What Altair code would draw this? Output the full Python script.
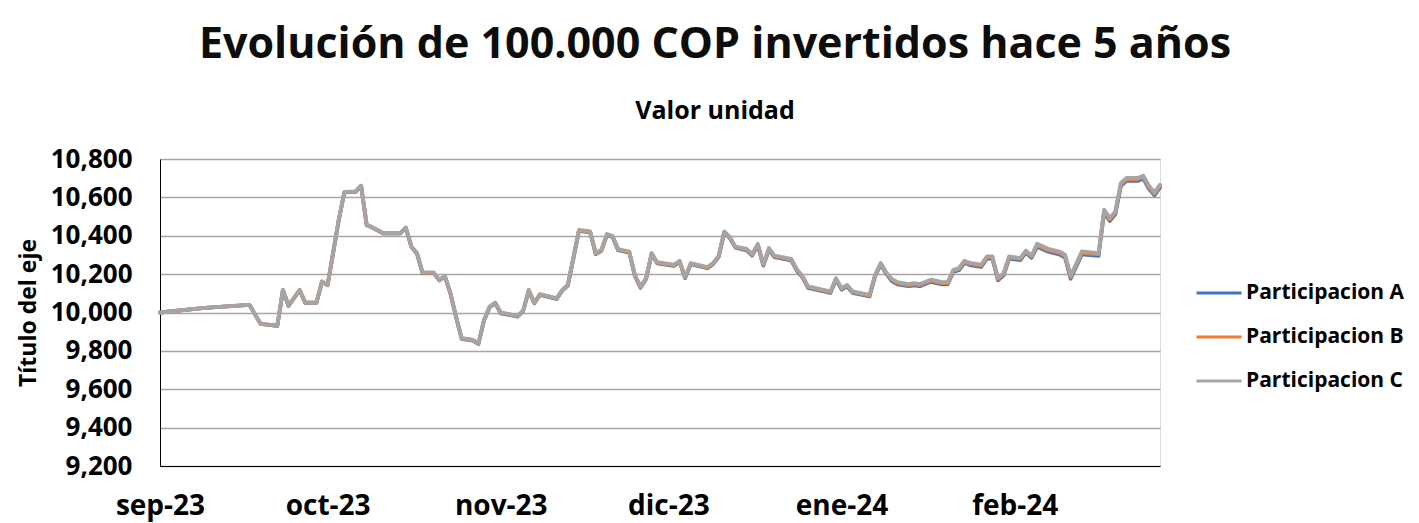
import altair as alt
import pandas as pd

dates = [
    "2023-09-01", "2023-09-09", "2023-09-17", "2023-09-19", "2023-09-22", "2023-09-23", "2023-09-24",
    "2023-09-26", "2023-09-27", "2023-09-29", "2023-09-30", "2023-10-01", "2023-10-03", "2023-10-04",
    "2023-10-06", "2023-10-07", "2023-10-08", "2023-10-09", "2023-10-11", "2023-10-14", "2023-10-15",
    "2023-10-16", "2023-10-17", "2023-10-18", "2023-10-20", "2023-10-21", "2023-10-22", "2023-10-23",
    "2023-10-24", "2023-10-25", "2023-10-27", "2023-10-28", "2023-10-29", "2023-10-30", "2023-10-31",
    "2023-11-01", "2023-11-04", "2023-11-05", "2023-11-06", "2023-11-07", "2023-11-08", "2023-11-11",
    "2023-11-12", "2023-11-13", "2023-11-15", "2023-11-17", "2023-11-18", "2023-11-19", "2023-11-20",
    "2023-11-21", "2023-11-22", "2023-11-24", "2023-11-25", "2023-11-26", "2023-11-27", "2023-11-28",
    "2023-11-29", "2023-12-02", "2023-12-03", "2023-12-04", "2023-12-05", "2023-12-08", "2023-12-09",
    "2023-12-10", "2023-12-11", "2023-12-12", "2023-12-13", "2023-12-15", "2023-12-16", "2023-12-17",
    "2023-12-18", "2023-12-19", "2023-12-20", "2023-12-23", "2023-12-24", "2023-12-25", "2023-12-26",
    "2023-12-30", "2023-12-31", "2024-01-01", "2024-01-02", "2024-01-03", "2024-01-06", "2024-01-07",
    "2024-01-08", "2024-01-09", "2024-01-10", "2024-01-11", "2024-01-13", "2024-01-14", "2024-01-15",
    "2024-01-17", "2024-01-19", "2024-01-20", "2024-01-21", "2024-01-22", "2024-01-23", "2024-01-24",
    "2024-01-26", "2024-01-27", "2024-01-28", "2024-01-29", "2024-01-30", "2024-01-31", "2024-02-02",
    "2024-02-03", "2024-02-04", "2024-02-05", "2024-02-07", "2024-02-09", "2024-02-10", "2024-02-11",
    "2024-02-13", "2024-02-16", "2024-02-17", "2024-02-18", "2024-02-19", "2024-02-20", "2024-02-21",
    "2024-02-23", "2024-02-24", "2024-02-25", "2024-02-26", "2024-02-27",
]

part_c = [
    10000, 10024, 10040, 9941, 9932, 10118, 10037,
    10118, 10052, 10052, 10162, 10144, 10484, 10628,
    10631, 10661, 10457, 10445, 10414, 10414, 10443,
    10344, 10310, 10209, 10209, 10171, 10191, 10101,
    9979, 9866, 9858, 9840, 9962, 10031, 10052,
    10000, 9983, 10010, 10118, 10052, 10096, 10075,
    10118, 10144, 10431, 10423, 10310, 10327, 10409,
    10400, 10331, 10318, 10197, 10135, 10179, 10310,
    10262, 10249, 10270, 10185, 10258, 10237, 10258,
    10296, 10423, 10393, 10344, 10332, 10305, 10358,
    10252, 10336, 10296, 10279, 10226, 10191, 10136,
    10110, 10179, 10127, 10144, 10110, 10092, 10197,
    10258, 10209, 10175, 10158, 10148, 10153, 10148,
    10171, 10158, 10158, 10223, 10231, 10270, 10258,
    10249, 10292, 10292, 10179, 10205, 10292, 10284,
    10323, 10296, 10358, 10332, 10318, 10301, 10191,
    10318, 10310, 10536, 10492, 10527, 10675, 10701,
    10701, 10713, 10661, 10626, 10666,
]

part_b = [
    10000, 10024, 10040, 9941, 9931, 10117, 10036,
    10117, 10051, 10051, 10161, 10143, 10483, 10627,
    10630, 10660, 10456, 10444, 10413, 10413, 10442,
    10343, 10308, 10207, 10207, 10169, 10189, 10099,
    9977, 9864, 9856, 9838, 9960, 10029, 10050,
    9998, 9981, 10008, 10116, 10050, 10094, 10073,
    10116, 10142, 10428, 10420, 10307, 10324, 10406,
    10397, 10328, 10315, 10194, 10132, 10176, 10307,
    10259, 10246, 10267, 10182, 10255, 10234, 10255,
    10293, 10420, 10390, 10341, 10328, 10301, 10354,
    10248, 10332, 10292, 10275, 10222, 10187, 10132,
    10106, 10175, 10123, 10140, 10106, 10088, 10193,
    10254, 10205, 10170, 10153, 10143, 10148, 10143,
    10166, 10153, 10153, 10218, 10226, 10265, 10253,
    10244, 10287, 10287, 10174, 10200, 10287, 10279,
    10318, 10291, 10351, 10325, 10311, 10294, 10184,
    10311, 10303, 10529, 10485, 10520, 10668, 10694,
    10694, 10706, 10654, 10619, 10659,
]

part_a = [
    10000, 10024, 10040, 9941, 9930, 10116, 10035,
    10116, 10050, 10050, 10160, 10142, 10482, 10626,
    10629, 10659, 10455, 10443, 10412, 10412, 10441,
    10342, 10306, 10205, 10205, 10167, 10187, 10097,
    9975, 9862, 9854, 9836, 9958, 10027, 10048,
    9996, 9979, 10006, 10114, 10048, 10092, 10071,
    10114, 10140, 10425, 10417, 10304, 10321, 10403,
    10394, 10325, 10312, 10191, 10129, 10173, 10304,
    10256, 10243, 10264, 10179, 10252, 10231, 10252,
    10290, 10417, 10387, 10338, 10324, 10297, 10350,
    10244, 10328, 10288, 10271, 10218, 10183, 10128,
    10102, 10171, 10119, 10136, 10102, 10084, 10189,
    10250, 10201, 10164, 10147, 10137, 10142, 10137,
    10160, 10147, 10147, 10212, 10220, 10259, 10247,
    10238, 10281, 10281, 10168, 10194, 10281, 10273,
    10312, 10285, 10343, 10317, 10303, 10286, 10176,
    10303, 10295, 10521, 10477, 10512, 10660, 10686,
    10686, 10698, 10646, 10611, 10651,
]

series_names = ["Participacion A", "Participacion B", "Participacion C"]
series_colors = ["#4472C4", "#ED7D31", "#A5A5A5"]
y_ticks = [9200, 9400, 9600, 9800, 10000, 10200, 10400, 10600, 10800]
month_ticks = [(2023, 9), (2023, 10), (2023, 11), (2023, 12), (2024, 1), (2024, 2)]
month_names = ["ene", "feb", "mar", "abr", "may", "jun", "jul", "ago", "sep", "oct", "nov", "dic"]

rows = []
for name, vals in zip(series_names, [part_a, part_b, part_c]):
    for d, v in zip(dates, vals):
        rows.append({"fecha": d, "valor": v, "serie": name})
df = pd.DataFrame(rows)

FONT = "Open Sans"
names_js = "[" + ",".join("'%s'" % m for m in month_names) + "]"
label_expr = names_js + "[utcmonth(datum.value)] + '-' + utcFormat(datum.value, '%y')"

x_enc = alt.X(
    "fecha:T",
    scale=alt.Scale(
        type="utc",
        domain=[alt.DateTime(year=2023, month=9, date=1, utc=True),
                alt.DateTime(year=2024, month=2, date=27, utc=True)],
        nice=False,
    ),
    axis=alt.Axis(
        values=[alt.DateTime(year=y, month=m, date=1, utc=True) for y, m in month_ticks],
        labelExpr=label_expr,
        title=None,
        grid=False,
        ticks=False,
        domainColor="#000000",
        domainWidth=1,
        labelFont=FONT,
        labelFontSize=28,
        labelFontWeight="bold",
        labelColor="#000000",
        labelPadding=26,
        labelFlush=False,
    ),
)

y_enc = alt.Y(
    "valor:Q",
    scale=alt.Scale(domain=[9200, 10800], nice=False, zero=False),
    axis=alt.Axis(
        values=y_ticks,
        format=",.0f",
        title="Título del eje",
        titleFont=FONT,
        titleFontSize=23,
        titleFontWeight="bold",
        titleColor="#000000",
        titlePadding=10,
        ticks=False,
        domainColor="#000000",
        domainWidth=1,
        gridColor="#a6a6a6",
        gridWidth=1.3,
        labelFont=FONT,
        labelFontSize=26,
        labelFontWeight="bold",
        labelColor="#000000",
        labelPadding=28,
    ),
)

chart = (
    alt.Chart(df)
    .mark_line(strokeWidth=3.8, strokeJoin="round", strokeCap="round")
    .encode(
        x=x_enc,
        y=y_enc,
        color=alt.Color(
            "serie:N",
            scale=alt.Scale(domain=series_names, range=series_colors),
            legend=alt.Legend(
                title=None,
                orient="none",
                legendX=1035,
                legendY=110,
                symbolType="stroke",
                symbolSize=2025,
                symbolStrokeWidth=3,
                labelFont=FONT,
                labelFontSize=21,
                labelFontWeight="bold",
                labelColor="#000000",
                labelOffset=3,
                rowPadding=10,
            ),
        ),
        order=alt.Order("fecha:T"),
    )
    .properties(
        width=1000,
        height=307,
        padding={"left": 152, "top": 151, "right": 251, "bottom": 57},
        autosize=alt.AutoSizeParams(type="none"),
        title=alt.TitleParams(
            text="Evolución de 100.000 COP invertidos hace 5 años",
            subtitle="Valor unidad",
            anchor="middle",
            frame="group",
            dx=55,
            font=FONT,
            fontSize=43,
            fontWeight="bold",
            color="#0d0d0d",
            subtitleFont=FONT,
            subtitleFontSize=25,
            subtitleFontWeight="bold",
            subtitleColor="#000000",
            subtitlePadding=32,
            offset=22,
        ),
    )
    .configure_view(stroke="#595959", strokeWidth=1)
    .configure(background="white")
)

chart.save("out.html", embed_options={"renderer": "svg", "actions": False})
